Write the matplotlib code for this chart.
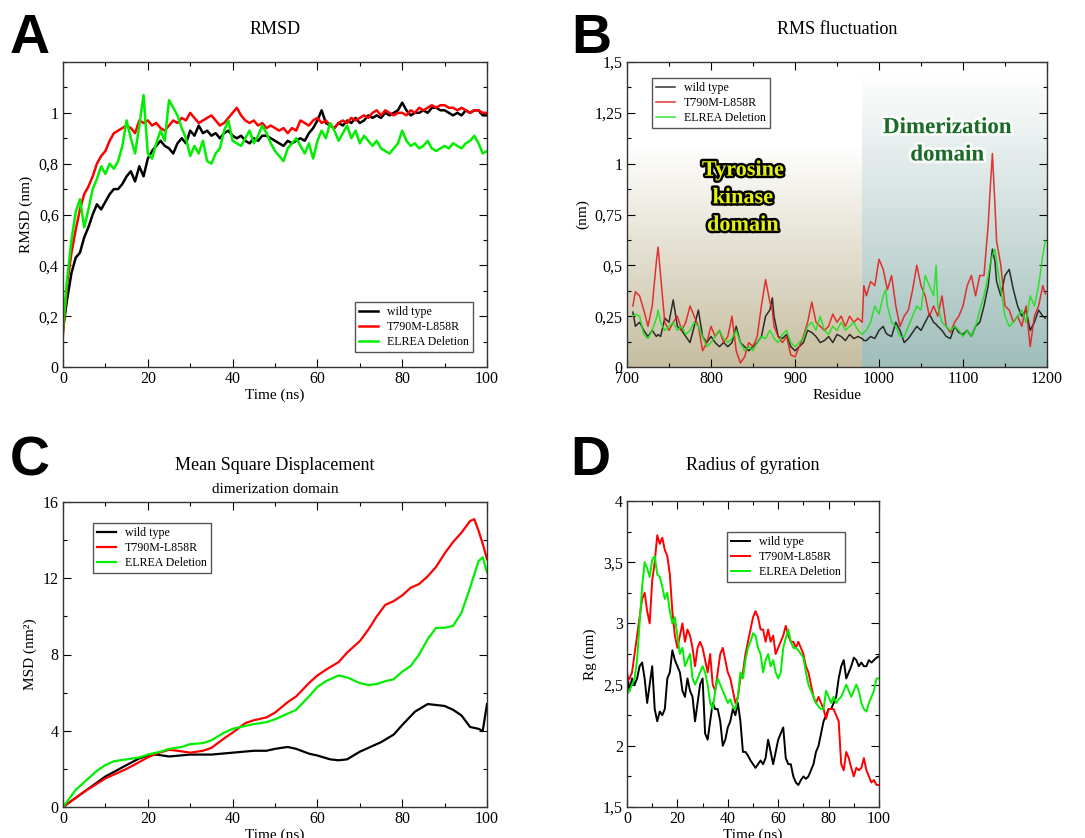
import numpy as np
import matplotlib
matplotlib.use("Agg")
import matplotlib.pyplot as plt
import matplotlib.patheffects as pe
from matplotlib.ticker import MultipleLocator, FuncFormatter

plt.rcParams['font.family'] = ['Liberation Serif', 'DejaVu Serif']

# ---------------- data ----------------
series_names = ['wild type', 'T790M-L858R', 'ELREA Deletion']
series_colors = ['black', 'red', '#00ee00']

# A: RMSD (nm) vs time (ns), 1 ns steps
time_a = np.arange(0, 101)
rmsd_wt = [0.15, 0.27, 0.37, 0.43, 0.45, 0.51, 0.55, 0.60, 0.64, 0.62,
           0.65, 0.68, 0.70, 0.70, 0.72, 0.75, 0.77, 0.73, 0.79, 0.75,
           0.82, 0.85, 0.87, 0.89, 0.87, 0.86, 0.84, 0.88, 0.90, 0.88,
           0.93, 0.91, 0.95, 0.92, 0.93, 0.91, 0.92, 0.90, 0.92, 0.93,
           0.91, 0.90, 0.91, 0.89, 0.88, 0.90, 0.89, 0.91, 0.91, 0.90,
           0.89, 0.88, 0.87, 0.89, 0.88, 0.89, 0.90, 0.89, 0.92, 0.94,
           0.97, 1.01, 0.96, 0.95, 0.94, 0.96, 0.95, 0.97, 0.96, 0.98,
           0.96, 0.97, 0.99, 0.98, 0.99, 0.98, 1.00, 0.99, 1.00, 1.01,
           1.04, 1.01, 0.99, 1.00, 1.00, 1.01, 1.00, 1.02, 1.02, 1.01,
           1.01, 1.00, 0.99, 1.00, 0.99, 1.01, 1.00, 1.01, 1.01, 0.99, 0.99]
rmsd_mut = [0.13, 0.33, 0.45, 0.54, 0.62, 0.68, 0.71, 0.75, 0.80, 0.83,
            0.85, 0.89, 0.92, 0.93, 0.94, 0.95, 0.94, 0.92, 0.97, 0.96,
            0.97, 0.95, 0.96, 0.94, 0.93, 0.95, 0.97, 0.96, 0.98, 0.97,
            1.00, 0.98, 0.96, 0.97, 0.98, 0.99, 0.97, 0.95, 0.96, 0.98,
            1.00, 1.02, 0.99, 0.97, 0.96, 0.97, 0.95, 0.96, 0.94, 0.95,
            0.94, 0.93, 0.94, 0.92, 0.94, 0.93, 0.97, 0.96, 0.95, 0.97,
            0.98, 0.96, 0.97, 0.95, 0.94, 0.96, 0.97, 0.96, 0.98, 0.97,
            0.98, 0.99, 0.98, 1.00, 1.01, 0.99, 1.01, 1.00, 0.99, 1.00,
            1.00, 0.99, 1.01, 1.00, 1.02, 1.01, 1.02, 1.03, 1.02, 1.03,
            1.03, 1.02, 1.02, 1.01, 1.02, 1.01, 1.00, 1.01, 1.01, 1.00, 1.00]
rmsd_del = [0.15, 0.35, 0.50, 0.61, 0.66, 0.55, 0.62, 0.70, 0.74, 0.79,
            0.76, 0.80, 0.78, 0.81, 0.87, 0.97, 0.90, 0.84, 0.95, 1.07,
            0.84, 0.82, 0.88, 0.93, 0.89, 1.05, 1.02, 0.99, 0.94, 0.90,
            0.83, 0.87, 0.84, 0.89, 0.81, 0.80, 0.84, 0.86, 0.93, 0.97,
            0.89, 0.88, 0.87, 0.90, 0.93, 0.88, 0.91, 0.95, 0.92, 0.88,
            0.85, 0.83, 0.81, 0.86, 0.88, 0.90, 0.87, 0.84, 0.88, 0.82,
            0.89, 0.93, 0.90, 0.96, 0.93, 0.89, 0.92, 0.95, 0.90, 0.93,
            0.88, 0.91, 0.89, 0.87, 0.89, 0.86, 0.85, 0.84, 0.86, 0.88,
            0.93, 0.89, 0.87, 0.88, 0.86, 0.87, 0.89, 0.86, 0.85, 0.86,
            0.87, 0.86, 0.88, 0.87, 0.86, 0.88, 0.89, 0.91, 0.88, 0.84, 0.85]

# B: RMS fluctuation (nm) per residue
residue_b = [707, 710, 715, 720, 725, 730, 735, 737, 740, 745,
             750, 755, 760, 765, 770, 775, 780, 785, 790, 795,
             800, 805, 810, 815, 820, 825, 830, 835, 840, 845,
             850, 855, 860, 865, 870, 873, 875, 880, 885, 890,
             895, 900, 905, 910, 915, 920, 925, 930, 935, 940,
             945, 950, 955, 960, 965, 970, 975, 980, 982, 985,
             990, 995, 1000, 1005, 1008, 1010, 1015, 1020, 1025, 1030,
             1035, 1040, 1045, 1050, 1055, 1060, 1065, 1068, 1070, 1075,
             1080, 1085, 1090, 1095, 1100, 1105, 1110, 1115, 1120, 1125,
             1130, 1132, 1135, 1138, 1140, 1145, 1150, 1155, 1160, 1165,
             1170, 1175, 1180, 1185, 1190, 1195, 1198]
rmsf_wt = [0.27, 0.20, 0.22, 0.18, 0.15, 0.18, 0.15, 0.16, 0.15, 0.24,
           0.22, 0.33, 0.20, 0.18, 0.15, 0.12, 0.20, 0.28, 0.15, 0.12,
           0.15, 0.12, 0.10, 0.12, 0.10, 0.12, 0.20, 0.12, 0.10, 0.08,
           0.10, 0.12, 0.15, 0.25, 0.28, 0.34, 0.25, 0.15, 0.14, 0.16,
           0.10, 0.08, 0.10, 0.12, 0.18, 0.17, 0.15, 0.12, 0.13, 0.15,
           0.12, 0.16, 0.15, 0.13, 0.16, 0.14, 0.15, 0.14, 0.13, 0.13,
           0.15, 0.14, 0.18, 0.20, 0.17, 0.16, 0.15, 0.22, 0.18, 0.12,
           0.14, 0.17, 0.20, 0.18, 0.22, 0.26, 0.22, 0.21, 0.20, 0.18,
           0.15, 0.14, 0.20, 0.17, 0.16, 0.18, 0.15, 0.20, 0.22, 0.30,
           0.40, 0.48, 0.58, 0.52, 0.42, 0.35, 0.45, 0.48, 0.38, 0.30,
           0.25, 0.28, 0.18, 0.22, 0.28, 0.25, 0.24]
rmsf_mut = [0.30, 0.37, 0.35, 0.28, 0.20, 0.30, 0.52, 0.59, 0.45, 0.22,
            0.18, 0.22, 0.25, 0.18, 0.22, 0.30, 0.25, 0.20, 0.08, 0.12,
            0.20, 0.15, 0.18, 0.12, 0.15, 0.25, 0.08, 0.02, 0.05, 0.12,
            0.10, 0.15, 0.30, 0.43, 0.32, 0.28, 0.20, 0.15, 0.12, 0.15,
            0.06, 0.05, 0.10, 0.15, 0.22, 0.32, 0.22, 0.20, 0.18, 0.20,
            0.26, 0.22, 0.25, 0.20, 0.25, 0.22, 0.24, 0.22, 0.40, 0.35,
            0.42, 0.40, 0.53, 0.48, 0.42, 0.38, 0.45, 0.30, 0.20, 0.25,
            0.28, 0.38, 0.50, 0.40, 0.35, 0.25, 0.30, 0.27, 0.25, 0.35,
            0.20, 0.17, 0.22, 0.25, 0.30, 0.40, 0.45, 0.35, 0.45, 0.45,
            0.70, 0.85, 1.05, 0.80, 0.62, 0.50, 0.30, 0.28, 0.22, 0.25,
            0.20, 0.30, 0.10, 0.25, 0.30, 0.40, 0.36]
rmsf_del = [0.25, 0.26, 0.25, 0.16, 0.14, 0.18, 0.24, 0.28, 0.22, 0.18,
            0.20, 0.22, 0.18, 0.20, 0.16, 0.18, 0.22, 0.20, 0.15, 0.10,
            0.12, 0.15, 0.18, 0.14, 0.12, 0.14, 0.18, 0.12, 0.08, 0.10,
            0.08, 0.12, 0.15, 0.14, 0.18, 0.16, 0.14, 0.12, 0.16, 0.18,
            0.12, 0.10, 0.12, 0.14, 0.20, 0.22, 0.18, 0.25, 0.18, 0.16,
            0.20, 0.18, 0.22, 0.18, 0.20, 0.22, 0.18, 0.16, 0.17, 0.18,
            0.22, 0.30, 0.26, 0.35, 0.38, 0.30, 0.22, 0.20, 0.15, 0.15,
            0.20, 0.25, 0.30, 0.28, 0.45, 0.40, 0.35, 0.50, 0.30, 0.22,
            0.20, 0.18, 0.20, 0.18, 0.15, 0.18, 0.15, 0.20, 0.28, 0.35,
            0.45, 0.50, 0.55, 0.58, 0.52, 0.38, 0.25, 0.20, 0.22, 0.25,
            0.28, 0.22, 0.35, 0.30, 0.40, 0.55, 0.62]

# C: MSD (nm^2) of the dimerization domain vs time (ns)
msd_wt_t = [0, 5, 10, 15, 18, 20, 22, 25, 30, 35, 40, 45, 48, 50, 53, 55, 58, 60,
            63, 65, 67, 70, 73, 75, 78, 80, 83, 86, 88, 90, 92, 94, 96, 98, 99, 99.5, 100]
msd_wt = [0, 0.8, 1.6, 2.2, 2.55, 2.7, 2.75, 2.65, 2.75, 2.75, 2.85, 2.95, 2.95, 3.05,
          3.15, 3.05, 2.8, 2.7, 2.5, 2.45, 2.5, 2.9, 3.2, 3.4, 3.8, 4.3, 5.0, 5.4, 5.35,
          5.3, 5.1, 4.8, 4.2, 4.1, 4.0, 4.7, 5.4]
msd_mut_t = [0, 5, 10, 15, 20, 22, 25, 27, 30, 33, 35, 38, 40, 43, 45, 48, 50, 53, 55,
             58, 60, 62, 65, 67, 70, 72, 74, 76, 78, 80, 82, 84, 86, 88, 90, 92, 94,
             96, 97, 98, 99, 100]
msd_mut = [0, 0.8, 1.5, 2.0, 2.6, 2.8, 3.0, 2.95, 2.85, 2.95, 3.1, 3.6, 3.9, 4.4, 4.55,
           4.7, 4.95, 5.5, 5.8, 6.5, 6.9, 7.2, 7.6, 8.1, 8.7, 9.3, 10.0, 10.6, 10.8,
           11.1, 11.5, 11.7, 12.1, 12.6, 13.3, 13.9, 14.4, 15.0, 15.1, 14.5, 13.8, 13.0]
msd_del_t = [0, 3, 5, 8, 10, 12, 15, 18, 20, 23, 25, 28, 30, 33, 35, 38, 40, 43, 45,
             48, 50, 53, 55, 58, 60, 62, 65, 67, 70, 72, 74, 76, 78, 80, 82, 84, 86,
             88, 90, 92, 94, 96, 98, 99, 100]
msd_del = [0, 0.9, 1.3, 1.9, 2.2, 2.4, 2.5, 2.6, 2.75, 2.9, 3.05, 3.15, 3.3, 3.35,
           3.5, 3.9, 4.1, 4.25, 4.35, 4.45, 4.6, 4.9, 5.1, 5.8, 6.3, 6.6, 6.9, 6.8,
           6.5, 6.4, 6.45, 6.6, 6.7, 7.1, 7.4, 8.0, 8.8, 9.4, 9.4, 9.5, 10.2, 11.5,
           12.9, 13.1, 12.3]

# D: radius of gyration (nm) vs time (ns), 1 ns steps
time_d = np.arange(0, 101)
rg_wt = [2.6, 2.45, 2.55, 2.5, 2.55, 2.65, 2.68, 2.55, 2.35, 2.5,
         2.65, 2.3, 2.2, 2.28, 2.25, 2.3, 2.55, 2.6, 2.78, 2.7,
         2.65, 2.6, 2.45, 2.4, 2.55, 2.45, 2.4, 2.2, 2.35, 2.5,
         2.55, 2.1, 2.05, 2.2, 2.35, 2.3, 2.3, 2.2, 2.0, 2.05,
         2.15, 2.2, 2.3, 2.25, 2.35, 2.2, 1.95, 1.95, 1.92, 1.88,
         1.85, 1.82, 1.85, 1.88, 1.85, 1.9, 2.05, 1.95, 1.85, 1.95,
         2.05, 2.1, 2.15, 1.9, 1.85, 1.85, 1.75, 1.7, 1.68, 1.72,
         1.75, 1.73, 1.75, 1.8, 1.85, 1.95, 2.0, 2.1, 2.2, 2.25,
         2.3, 2.3, 2.35, 2.4, 2.55, 2.65, 2.7, 2.55, 2.6, 2.65,
         2.72, 2.7, 2.65, 2.68, 2.65, 2.65, 2.7, 2.68, 2.7, 2.72, 2.73]
rg_mut = [2.52, 2.55, 2.6, 2.75, 2.9, 3.05, 3.2, 3.25, 3.1, 3.0,
          3.35, 3.5, 3.72, 3.65, 3.7, 3.6, 3.55, 3.4, 3.1, 2.9,
          2.8, 2.9, 3.0, 2.85, 2.95, 2.9, 2.8, 2.65, 2.8, 2.85,
          2.8, 2.7, 2.6, 2.75, 2.5, 2.45, 2.6, 2.75, 2.8, 2.7,
          2.6, 2.55, 2.45, 2.35, 2.4, 2.55, 2.6, 2.75, 2.85, 2.95,
          3.05, 3.1, 3.05, 2.95, 2.95, 2.85, 2.95, 2.85, 2.9, 2.75,
          2.8, 2.85, 2.9, 2.98, 2.9, 2.85, 2.85, 2.8, 2.85, 2.8,
          2.75, 2.65, 2.6, 2.5, 2.4, 2.35, 2.4, 2.35, 2.3, 2.22,
          2.3, 2.3, 2.3, 2.25, 2.2, 1.85, 1.8, 1.95, 1.9, 1.82,
          1.75, 1.82, 1.8, 1.82, 1.9, 1.8, 1.75, 1.7, 1.72, 1.68, 1.68]
rg_del = [2.42, 2.45, 2.5, 2.55, 2.7, 3.0, 3.3, 3.5, 3.45, 3.38,
          3.52, 3.55, 3.4, 3.38, 3.3, 3.2, 3.25, 3.1, 3.0, 3.05,
          2.9, 2.75, 2.8, 2.65, 2.7, 2.75, 2.55, 2.5, 2.55, 2.6,
          2.65, 2.6, 2.5, 2.35, 2.3, 2.45, 2.55, 2.5, 2.45, 2.4,
          2.35, 2.38, 2.32, 2.3, 2.4, 2.6, 2.55, 2.7, 2.8, 2.85,
          2.92, 2.9, 2.8, 2.75, 2.6, 2.7, 2.75, 2.65, 2.7, 2.6,
          2.55, 2.6, 2.8, 2.88, 2.95, 2.85, 2.8, 2.8, 2.78, 2.75,
          2.72, 2.6, 2.5, 2.45, 2.4, 2.35, 2.32, 2.3, 2.3, 2.45,
          2.4, 2.35, 2.4, 2.35, 2.38, 2.4, 2.45, 2.5, 2.45, 2.4,
          2.45, 2.5, 2.45, 2.35, 2.3, 2.28, 2.35, 2.4, 2.45, 2.55, 2.55]

# domain boundary in panel B
domain_split = 980


# ---------------- helpers ----------------
comma_fmt = FuncFormatter(lambda v, p: ('%g' % round(v, 4)).replace('.', ','))
W, H = 1085, 838


def px_axes(left, top, right, bottom):
    return fig.add_axes([left / W, 1 - bottom / H, (right - left) / W, (bottom - top) / H])


def style_axes(ax, xmaj, xmin, ymaj, ymin):
    ax.xaxis.set_major_locator(MultipleLocator(xmaj))
    ax.xaxis.set_minor_locator(MultipleLocator(xmin))
    ax.yaxis.set_major_locator(MultipleLocator(ymaj))
    ax.yaxis.set_minor_locator(MultipleLocator(ymin))
    ax.yaxis.set_major_formatter(comma_fmt)
    ax.tick_params(which='both', direction='in', top=True, right=True, labelsize=11.5, pad=3)
    ax.tick_params(which='major', length=6, width=0.8)
    ax.tick_params(which='minor', length=3, width=0.8)
    for s in ax.spines.values():
        s.set_linewidth(1.0)
        s.set_color('#333333')


def add_legend(ax, anchor):
    leg = ax.legend(loc='upper left', bbox_to_anchor=anchor, fontsize=8.6, frameon=True,
                    fancybox=False, framealpha=1, edgecolor='#555555', handlelength=1.6,
                    handletextpad=0.7, borderpad=0.35, labelspacing=0.25, borderaxespad=0)
    leg.get_frame().set_linewidth(1.0)


fig = plt.figure(figsize=(W / 100, H / 100), dpi=100)

# ---------------- A: RMSD ----------------
ax_a = px_axes(63, 62, 487, 367)
for y, c, n in zip([rmsd_wt, rmsd_mut, rmsd_del], series_colors, series_names):
    ax_a.plot(time_a, y, color=c, lw=1.8, label=n)
ax_a.set_xlim(0, 100)
ax_a.set_ylim(0, 1.2)
style_axes(ax_a, 20, 10, 0.2, 0.1)
ax_a.set_yticks([0, 0.2, 0.4, 0.6, 0.8, 1.0])
ax_a.set_xlabel('Time (ns)', fontsize=11, labelpad=1)
ax_a.set_ylabel('RMSD (nm)', fontsize=11)
add_legend(ax_a, (0.689, 0.213))

# ---------------- B: RMSF ----------------
ax_b = px_axes(627, 62, 1047, 367)
grad = np.linspace(0, 1, 256)[:, None, None]
tan = np.array([198, 190, 160]) / 255
teal = np.array([160, 190, 186]) / 255
left_bg = (1 - grad) * tan + grad * np.ones(3)
right_bg = (1 - grad) * teal + grad * np.ones(3)
ax_b.imshow(left_bg, extent=[700, domain_split, 0, 1.1], origin='lower', aspect='auto', zorder=0)
ax_b.imshow(right_bg, extent=[domain_split, 1200, 0, 1.45], origin='lower', aspect='auto', zorder=0)
b_colors = ['#1a1a1a', '#e02020', '#20e020']
for y, c, n in zip([rmsf_wt, rmsf_mut, rmsf_del], b_colors, series_names):
    ax_b.plot(residue_b, y, color=c, lw=1.1, label=n, alpha=0.9, zorder=2)
ax_b.set_xlim(700, 1200)
ax_b.set_ylim(0, 1.5)
style_axes(ax_b, 100, 50, 0.25, 0.125)
ax_b.set_xlabel('Residue', fontsize=11, labelpad=1)
ax_b.set_ylabel('(nm)', fontsize=11)
add_legend(ax_b, (0.0595, 0.948))
ax_b.text(838, 0.83, 'Tyrosine\nkinase\ndomain', ha='center', va='center', fontsize=16,
          fontweight='bold', color='#e4f010', linespacing=1.5, zorder=3,
          path_effects=[pe.withStroke(linewidth=3.5, foreground='black')])
ax_b.text(1081, 1.11, 'Dimerization\ndomain', ha='center', va='center', fontsize=16.5,
          fontweight='bold', color='#1c6a28', linespacing=1.4, zorder=3,
          path_effects=[pe.withStroke(linewidth=4, foreground='white', alpha=0.8)])

# ---------------- C: MSD ----------------
ax_c = px_axes(63, 502, 487, 807)
for (x, y), c, n in zip([(msd_wt_t, msd_wt), (msd_mut_t, msd_mut), (msd_del_t, msd_del)],
                        series_colors, series_names):
    ax_c.plot(x, y, color=c, lw=1.6, label=n)
ax_c.set_xlim(0, 100)
ax_c.set_ylim(0, 16)
style_axes(ax_c, 20, 10, 4, 2)
ax_c.set_xlabel('Time (ns)', fontsize=11, labelpad=1)
ax_c.set_ylabel('MSD (nm²)', fontsize=11)
add_legend(ax_c, (0.0708, 0.931))

# ---------------- D: Radius of gyration ----------------
ax_d = px_axes(627, 501, 879, 807)
for y, c, n in zip([rg_wt, rg_mut, rg_del], series_colors, series_names):
    ax_d.plot(time_d, y, color=c, lw=1.4, label=n)
ax_d.set_xlim(0, 100)
ax_d.set_ylim(1.5, 4)
style_axes(ax_d, 20, 10, 0.5, 0.25)
ax_d.set_xlabel('Time (ns)', fontsize=11, labelpad=1)
ax_d.set_ylabel('Rg (nm)', fontsize=11)
add_legend(ax_d, (0.397, 0.899))

# ---------------- titles and panel letters ----------------
fig.text(275 / W, 1 - 30 / H, 'RMSD', ha='center', va='center', fontsize=13)
fig.text(837 / W, 1 - 30 / H, 'RMS fluctuation', ha='center', va='center', fontsize=13)
fig.text(275 / W, 1 - 465 / H, 'Mean Square Displacement', ha='center', va='center', fontsize=13)
fig.text(275 / W, 1 - 489 / H, 'dimerization domain', ha='center', va='center', fontsize=11)
fig.text(753 / W, 1 - 465 / H, 'Radius of gyration', ha='center', va='center', fontsize=13)

for letter, (lx, ly) in zip('ABCD', [(10, 53), (571, 53), (10, 475), (570, 475)]):
    fig.text(lx / W, 1 - ly / H, letter, ha='left', va='baseline', fontsize=40,
             fontweight='bold', family='Liberation Sans')

fig.savefig('out.png', dpi=100)
